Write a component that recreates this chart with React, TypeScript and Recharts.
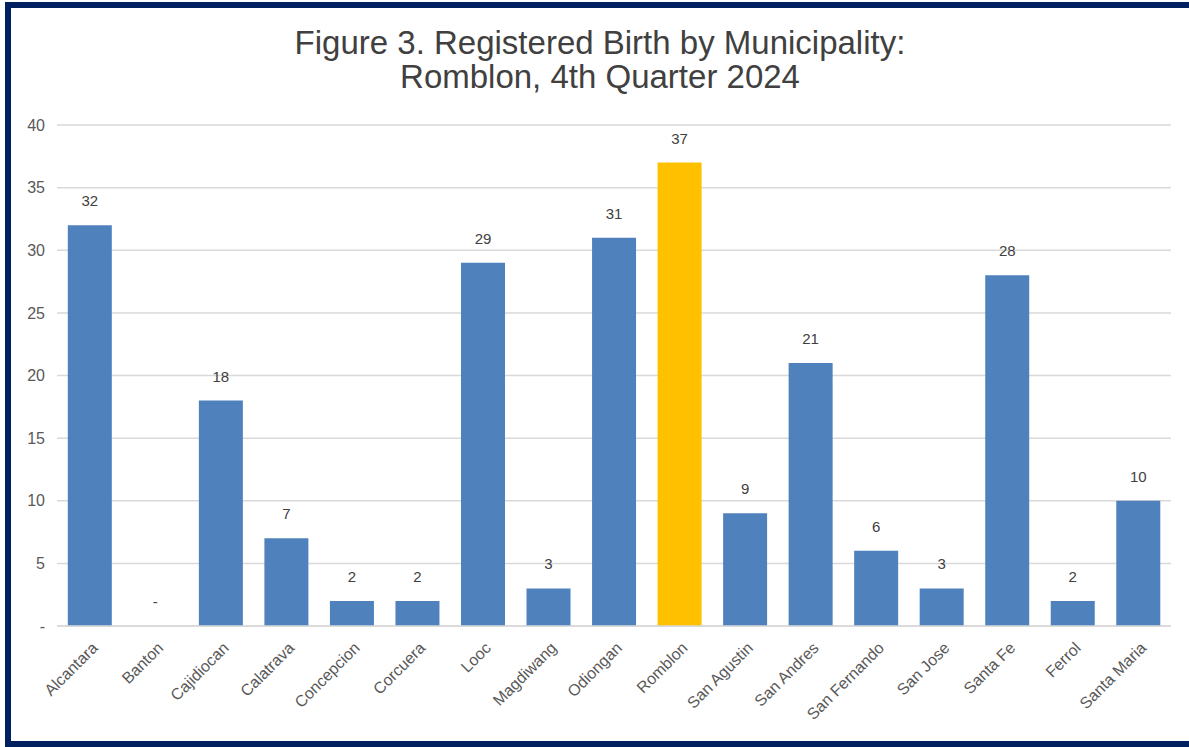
import { BarChart, Bar, XAxis, YAxis, CartesianGrid, Cell, LabelList } from "recharts";

const municipalities = [
  "Alcantara", "Banton", "Cajidiocan", "Calatrava", "Concepcion", "Corcuera", "Looc",
  "Magdiwang", "Odiongan", "Romblon", "San Agustin", "San Andres", "San Fernando",
  "San Jose", "Santa Fe", "Ferrol", "Santa Maria",
];
const births = [32, 0, 18, 7, 2, 2, 29, 3, 31, 37, 9, 21, 6, 3, 28, 2, 10];
const yTicks = [0, 5, 10, 15, 20, 25, 30, 35, 40];
const highlight = "Romblon";

const data = municipalities.map((name, i) => ({ name, value: births[i] }));

const FONT = "'Liberation Sans', Arial, sans-serif";

const dashZero = (v: number) => (v === 0 ? "-" : String(v));

function AngledTick(props: any) {
  const { x, y, payload } = props;
  const ax = x + 9;
  const ay = y + 15;
  return (
    <text
      x={ax}
      y={ay}
      transform={`rotate(-45, ${ax}, ${ay})`}
      textAnchor="end"
      fontSize={16}
      fontFamily={FONT}
      fill="#595959"
    >
      {payload.value}
    </text>
  );
}

// value labels drawn by hand so the zero bar still gets its "-"
function ValueLabel(props: any) {
  const { x, y, width, value } = props;
  return (
    <text
      x={Number(x) + Number(width) / 2}
      y={Number(y) - 19}
      textAnchor="middle"
      fontSize={15}
      fontFamily={FONT}
      fill="#404040"
    >
      {dashZero(Number(value))}
    </text>
  );
}

export default function App() {
  return (
    <div style={{ position: "absolute", left: 0, top: 0, width: 1189, height: 747, background: "#fff", overflow: "hidden" }}>
      <div
        style={{
          position: "absolute", left: 5, top: 2, width: 1200, height: 745,
          border: "6px solid #002060", boxSizing: "border-box",
        }}
      />
      <div
        style={{
          position: "absolute", left: 0, top: 26, width: 1200, textAlign: "center",
          fontFamily: FONT, fontSize: 33, lineHeight: "34px", color: "#404040",
        }}
      >
        Figure 3. Registered Birth by Municipality:
        <br />
        Romblon, 4th Quarter 2024
      </div>
      <div style={{ position: "absolute", left: 0, top: 0 }}>
        <BarChart
          width={1189}
          height={747}
          data={data}
          margin={{ top: 125, right: 18, left: 0, bottom: 0 }}
          barCategoryGap="16.5%"
        >
          <CartesianGrid vertical={false} stroke="#d9d9d9" strokeWidth={1.5} />
          <XAxis
            dataKey="name"
            interval={0}
            axisLine={{ stroke: "#d9d9d9", strokeWidth: 1.5 }}
            tickLine={false}
            tick={<AngledTick />}
            height={121}
          />
          <YAxis
            width={57}
            domain={[0, 40]}
            ticks={yTicks}
            tickFormatter={dashZero}
            axisLine={false}
            tickLine={false}
            tickMargin={6}
            tick={{ fontSize: 16, fill: "#595959", fontFamily: FONT }}
          />
          <Bar dataKey="value" isAnimationActive={false} minPointSize={0.01}>
            {data.map((d) => (
              <Cell key={d.name} fill={d.name === highlight ? "#FFC000" : "#4F81BD"} />
            ))}
            <LabelList dataKey="value" content={<ValueLabel />} />
          </Bar>
        </BarChart>
      </div>
    </div>
  );
}
